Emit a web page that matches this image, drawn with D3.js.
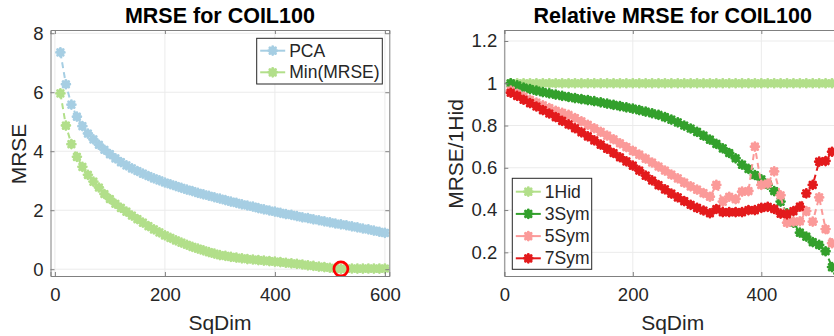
<!DOCTYPE html>
<html lang="en">
  <head>
    <meta charset="utf-8" />
    <title>MRSE for COIL100</title>
    <script src="https://d3js.org/d3.v7.min.js"></script>
    <style>
      body {
        margin: 0;
        background: #fff;
        overflow: hidden;
      }
      text {
        font-family: "Liberation Sans", Arial, Helvetica, sans-serif;
        fill: #262626;
      }
    </style>
  </head>
  <body>
    <div id="main"></div>
    <script>
      // x positions (SqDim), one point every 10
      var sqDim = [
        10, 20, 30, 40, 50, 60, 70, 80, 90, 100, 110, 120, 130, 140, 150, 160,
        170, 180, 190, 200, 210, 220, 230, 240, 250, 260, 270, 280, 290, 300,
        310, 320, 330, 340, 350, 360, 370, 380, 390, 400, 410, 420, 430, 440,
        450, 460, 470, 480, 490, 500, 510, 520, 530, 540, 550, 560, 570, 580,
        590, 600,
      ];

      // left panel
      var pca = [
        7.35, 6.27, 5.58, 5.17, 4.85, 4.6, 4.4, 4.22, 4.05, 3.9,
        3.76, 3.63, 3.52, 3.42, 3.33, 3.24, 3.16, 3.08, 3.01, 2.94,
        2.88, 2.82, 2.76, 2.7, 2.65, 2.59, 2.54, 2.49, 2.44, 2.39,
        2.34, 2.29, 2.25, 2.2, 2.16, 2.12, 2.07, 2.03, 1.99, 1.95,
        1.91, 1.87, 1.84, 1.8, 1.76, 1.73, 1.69, 1.66, 1.62, 1.59,
        1.55, 1.52, 1.49, 1.45, 1.42, 1.38, 1.35, 1.31, 1.27, 1.23,
      ];
      var minMrse = [
        5.96, 4.87, 4.24, 3.81, 3.47, 3.2, 2.97, 2.77, 2.55, 2.38,
        2.22, 2.08, 1.95, 1.82, 1.7, 1.58, 1.46, 1.35, 1.25, 1.15,
        1.06, 0.98, 0.9, 0.83, 0.76, 0.7, 0.64, 0.58, 0.53, 0.48,
        0.45, 0.42, 0.39, 0.365, 0.345, 0.33, 0.31, 0.29, 0.275, 0.26,
        0.24, 0.22, 0.2, 0.18, 0.16, 0.13, 0.11, 0.09, 0.07, 0.05,
        0.03, 0.01, 0.02, 0.025, 0.02, 0.02, 0.025, 0.02, 0.02, 0.025,
      ];
      var minIndex = 51; // SqDim 520, circled

      // right panel (relative to 1Hid), visible part up to SqDim 520
      var hid1 = [
        1, 1, 1, 1, 1, 1, 1, 1, 1, 1, 1, 1, 1, 1, 1, 1, 1, 1, 1, 1, 1, 1, 1,
        1, 1, 1, 1, 1, 1, 1, 1, 1, 1, 1, 1, 1, 1, 1, 1, 1, 1, 1, 1, 1, 1, 1,
        1, 1, 1, 1, 1, 1,
      ];
      var sym3 = [
        1.0, 0.99, 0.98, 0.972, 0.965, 0.958, 0.952, 0.946, 0.94, 0.935,
        0.93, 0.925, 0.92, 0.915, 0.91, 0.904, 0.898, 0.892, 0.886, 0.88,
        0.873, 0.866, 0.858, 0.85, 0.84, 0.828, 0.815, 0.8, 0.786, 0.77,
        0.752, 0.733, 0.713, 0.692, 0.67, 0.645, 0.615, 0.595, 0.566, 0.545,
        0.52, 0.49, 0.44, 0.385, 0.34, 0.293, 0.274, 0.248, 0.235, 0.205,
        0.13, 0.1,
      ];
      var sym5 = [
        0.965, 0.95, 0.937, 0.922, 0.908, 0.895, 0.882, 0.87, 0.86, 0.85,
        0.835, 0.82, 0.803, 0.787, 0.77, 0.752, 0.735, 0.716, 0.698, 0.68,
        0.662, 0.643, 0.625, 0.606, 0.587, 0.568, 0.55, 0.53, 0.512, 0.497,
        0.48, 0.463, 0.519, 0.44, 0.463, 0.452, 0.487, 0.49, 0.7, 0.519,
        0.525, 0.583, 0.47, 0.34, 0.345, 0.347, 0.395, 0.345, 0.46, 0.31,
        0.243, 0.23,
      ];
      var sym7 = [
        0.955, 0.94, 0.922, 0.906, 0.89, 0.873, 0.857, 0.84, 0.822, 0.805,
        0.787, 0.768, 0.749, 0.73, 0.71, 0.69, 0.67, 0.65, 0.63, 0.61,
        0.587, 0.563, 0.54, 0.518, 0.498, 0.478, 0.46, 0.442, 0.425, 0.41,
        0.398, 0.385, 0.405, 0.39, 0.39, 0.39, 0.39, 0.4, 0.4, 0.41,
        0.415, 0.405, 0.383, 0.38, 0.395, 0.416, 0.479, 0.519, 0.629, 0.632,
        0.676, 0.68,
      ];

      var leftXTicks = [0, 200, 400, 600];
      var leftYTicks = [0, 2, 4, 6, 8];
      var rightXTicks = [0, 200, 400];
      var rightYTicks = [0.2, 0.4, 0.6, 0.8, 1, 1.2];

      var leftNames = ["PCA", "Min(MRSE)"];
      var rightNames = ["1Hid", "3Sym", "5Sym", "7Sym"];
      var leftColors = ["#a6cee3", "#b2df8a"];
      var rightColors = ["#b2df8a", "#33a02c", "#fb9a99", "#e31a1c"];

      var svg = d3
        .select("#main")
        .append("svg")
        .attr("width", 834)
        .attr("height", 336);

      // matlab style '*' marker
      function star(cx, cy, r) {
        var a = r * 0.72;
        var p = d3.path();
        p.moveTo(cx - r, cy);
        p.lineTo(cx + r, cy);
        p.moveTo(cx, cy - r);
        p.lineTo(cx, cy + r);
        p.moveTo(cx - a, cy - a);
        p.lineTo(cx + a, cy + a);
        p.moveTo(cx - a, cy + a);
        p.lineTo(cx + a, cy - a);
        return p.toString();
      }

      function panel(opt) {
        var g = svg.append("g");
        var x = d3.scaleLinear().domain(opt.xDomain).range([opt.left, opt.right]);
        var y = d3.scaleLinear().domain(opt.yDomain).range([opt.bottom, opt.top]);

        g.append("rect")
          .attr("x", opt.left)
          .attr("y", opt.top)
          .attr("width", opt.right - opt.left)
          .attr("height", opt.bottom - opt.top)
          .attr("fill", "#fff");

        // grid
        g.selectAll("line.gx")
          .data(opt.xTicks)
          .enter()
          .append("line")
          .attr("x1", (d) => x(d))
          .attr("x2", (d) => x(d))
          .attr("y1", opt.top)
          .attr("y2", opt.bottom)
          .attr("stroke", "#ebebeb")
          .attr("stroke-width", 1);
        g.selectAll("line.gy")
          .data(opt.yTicks)
          .enter()
          .append("line")
          .attr("x1", opt.left)
          .attr("x2", opt.right)
          .attr("y1", (d) => y(d))
          .attr("y2", (d) => y(d))
          .attr("stroke", "#ebebeb")
          .attr("stroke-width", 1);

        var clipId = "clip" + opt.id;
        svg
          .append("clipPath")
          .attr("id", clipId)
          .append("rect")
          .attr("x", opt.left)
          .attr("y", opt.top)
          .attr("width", opt.right - opt.left)
          .attr("height", opt.bottom - opt.top);

        var plot = g.append("g").attr("clip-path", "url(#" + clipId + ")");

        opt.series.forEach(function (s, i) {
          var pts = s.map((v, k) => [sqDim[k], v]);
          var line = d3
            .line()
            .x((d) => x(d[0]))
            .y((d) => y(d[1]));
          plot
            .append("path")
            .attr("d", line(pts))
            .attr("fill", "none")
            .attr("stroke", opt.colors[i])
            .attr("stroke-width", 2)
            .attr("stroke-dasharray", "6,4");
          plot
            .append("g")
            .selectAll("path")
            .data(pts)
            .enter()
            .append("path")
            .attr("d", (d) => star(x(d[0]), y(d[1]), 3.9))
            .attr("fill", "none")
            .attr("stroke", opt.colors[i])
            .attr("stroke-width", 2.9)
            .attr("stroke-linecap", "round");
        });

        if (opt.extra) opt.extra(plot, x, y);

        // box with inward ticks on all sides
        var axisColor = "#262626";
        var bottom = g
          .append("g")
          .attr("transform", "translate(0," + opt.bottom + ")")
          .call(
            d3.axisBottom(x).tickValues(opt.xTicks).tickSize(-4).tickPadding(12)
              .tickFormat(d3.format("d"))
          );
        var leftAx = g
          .append("g")
          .attr("transform", "translate(" + opt.left + ",0)")
          .call(
            d3.axisLeft(y).tickValues(opt.yTicks).tickSize(-4).tickPadding(7)
              .tickFormat((d) => String(d))
          );
        var topAx = g
          .append("g")
          .attr("transform", "translate(0," + opt.top + ")")
          .call(d3.axisTop(x).tickValues(opt.xTicks).tickSize(-4).tickFormat(""));
        var rightAx = g
          .append("g")
          .attr("transform", "translate(" + opt.right + ",0)")
          .call(d3.axisRight(y).tickValues(opt.yTicks).tickSize(-4).tickFormat(""));

        [bottom, leftAx, topAx, rightAx].forEach(function (a) {
          a.select(".domain").attr("stroke", "#808080").attr("stroke-width", 1);
          a.selectAll(".tick line").attr("stroke", "#808080");
          a.selectAll(".tick text")
            .attr("font-size", "18.5px")
            .style("font-family", '"Liberation Sans", Arial, sans-serif')
            .attr("fill", axisColor);
        });

        // titles
        var cx = (opt.left + opt.right) / 2;
        g.append("text")
          .attr("x", cx)
          .attr("y", 23)
          .attr("text-anchor", "middle")
          .attr("font-size", "21.5px")
          .attr("font-weight", "bold")
          .style("fill", "#000")
          .text(opt.title);
        g.append("text")
          .attr("x", cx)
          .attr("y", 330)
          .attr("text-anchor", "middle")
          .attr("font-size", "21px")
          .text("SqDim");
        g.append("text")
          .attr("transform", "translate(" + opt.yLabelX + ",154) rotate(-90)")
          .attr("text-anchor", "middle")
          .attr("font-size", "21px")
          .text(opt.yLabel);

        // legend
        var lg = g.append("g");
        lg.append("rect")
          .attr("x", opt.legend.x)
          .attr("y", opt.legend.y)
          .attr("width", opt.legend.w)
          .attr("height", opt.legend.h)
          .attr("fill", "#fff")
          .attr("stroke", "#262626")
          .attr("stroke-width", 1);
        opt.names.forEach(function (name, i) {
          var ly = opt.legend.y + opt.legend.first + i * opt.legend.step;
          var lx = opt.legend.x + 3.5;
          lg.append("line")
            .attr("x1", lx)
            .attr("x2", lx + 25)
            .attr("y1", ly)
            .attr("y2", ly)
            .attr("stroke", opt.colors[i])
            .attr("stroke-width", 2);
          lg.append("path")
            .attr("d", star(lx + 12.5, ly, 3.9))
            .attr("fill", "none")
            .attr("stroke", opt.colors[i])
            .attr("stroke-width", 2.9)
            .attr("stroke-linecap", "round");
          lg.append("text")
            .attr("x", lx + 29)
            .attr("y", ly)
            .attr("dy", "0.35em")
            .attr("font-size", "17.5px")
            .text(name);
        });
      }

      panel({
        id: "L",
        left: 50.5,
        right: 389.3,
        top: 30,
        bottom: 276,
        xDomain: [-8, 608],
        yDomain: [-0.23, 8.11],
        xTicks: leftXTicks,
        yTicks: leftYTicks,
        series: [pca, minMrse],
        colors: leftColors,
        names: leftNames,
        title: "MRSE for COIL100",
        yLabel: "MRSE",
        yLabelX: 26,
        legend: { x: 256.7, y: 38.3, w: 125.6, h: 45.7, first: 12.4, step: 21.6 },
        extra: function (plot, x, y) {
          plot
            .append("circle")
            .attr("cx", x(sqDim[minIndex]))
            .attr("cy", y(minMrse[minIndex]))
            .attr("r", 7)
            .attr("fill", "none")
            .attr("stroke", "#ff0000")
            .attr("stroke-width", 2.7);
        },
      });

      panel({
        id: "R",
        left: 504.3,
        right: 841,
        top: 30,
        bottom: 276,
        xDomain: [0, 524],
        yDomain: [0.088, 1.252],
        xTicks: rightXTicks,
        yTicks: rightYTicks,
        series: [hid1, sym3, sym5, sym7],
        colors: rightColors,
        names: rightNames,
        title: "Relative MRSE for COIL100",
        yLabel: "MRSE/1Hid",
        yLabelX: 463,
        legend: { x: 512.3, y: 178.3, w: 79.4, h: 91, first: 13.4, step: 22.2 },
      });
    </script>
  </body>
</html>
